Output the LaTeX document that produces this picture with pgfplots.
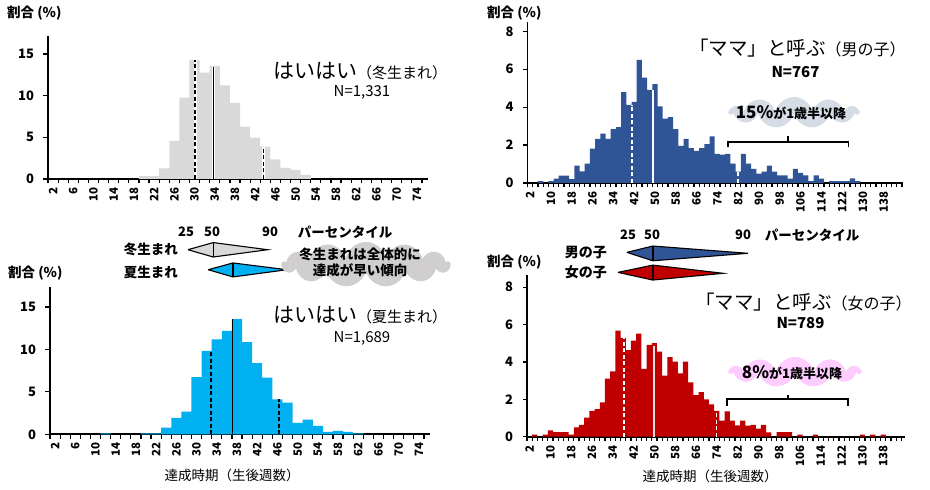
\documentclass[border=0pt]{standalone}
\usepackage{pgfplots}
\pgfplotsset{compat=1.18}
\usepackage{fontspec}
\setmainfont{Noto Sans CJK JP}
\usetikzlibrary{shapes.symbols}
\newcommand{\fs}[1]{\fontsize{#1}{#1}\selectfont}
\definecolor{winter}{HTML}{D9D9D9}
\definecolor{summer}{HTML}{00B0F0}
\definecolor{boy}{HTML}{2F5597}
\definecolor{girl}{HTML}{C00000}
\definecolor{cloudgray}{HTML}{D0CECE}
\definecolor{cloudblue}{HTML}{D6DCE5}
\definecolor{cloudpink}{HTML}{FFCCFF}
\pgfplotsset{
 hist/.style={
  scale only axis, clip=false,
  axis lines*=left,
  axis line style={line width=1.7pt, black},
  tick align=outside,
  major tick length=4.5pt,
  tick style={line width=1.2pt, black},
  ymin=0, xmin=1,
  xticklabels={},
  extra x tick style={major tick length=0pt, tick style={draw=none}},
  yticklabel style={font=\bfseries\fs{13}, xshift=-6pt},
  xticklabel style={font=\bfseries\fs{11.5}, rotate=90, anchor=east},
  xticklabel shift=5pt,
  /pgf/number format/assume math mode=true,
  /pgf/number format/1000 sep={},
 },
 pw/.style={white, line width=3pt},
 pk/.style={black, line width=1.4pt},
 pkd/.style={black, line width=1.4pt, dash pattern=on 4pt off 2.5pt},
 rw/.style={white, line width=1.6pt},
 rwd/.style={white, line width=1.6pt, dash pattern=on 4pt off 2.5pt},
}
\begin{document}
\begin{tikzpicture}

% ---------- top left: winter ----------
\begin{axis}[hist, anchor=south west, at={(48pt,311pt)}, width=380pt, height=143pt,
  xmax=76.2, ymax=17.16, ytick={0,5,10,15},
  xtick={1,3,...,75}, extra x ticks={2,6,...,74}]
\addplot[ybar, bar width=2, bar shift=0pt, fill=winter, draw=none] coordinates {
(20,0.35) (22,0.35) (24,1.28) (26,4.56) (28,9.76) (30,14.28) (32,12.76) (34,13.56)
(36,11.24) (38,9.12) (40,6.28) (42,4.96) (44,3.88) (46,2.36) (48,1.32) (50,1.08) (52,0.48)};
\addplot[pw] coordinates {(30.1,0) (30.1,14.28)};
\addplot[pkd] coordinates {(30.1,0) (30.1,14.28)};
\addplot[pw] coordinates {(33.7,0) (33.7,13.4)};
\addplot[pk] coordinates {(33.7,0) (33.7,13.4)};
\addplot[pw] coordinates {(43.6,0) (43.6,3.88)};
\addplot[pkd] coordinates {(43.6,0) (43.6,3.88)};
\end{axis}

% ---------- bottom left: summer ----------
\begin{axis}[hist, anchor=south west, at={(50pt,55.7pt)}, width=380pt, height=147.6pt,
  xmax=76.2, ymax=17.4, ytick={0,5,10,15},
  xtick={1,3,...,75}, extra x ticks={2,6,...,74}]
\addplot[ybar, bar width=2, bar shift=0pt, fill=summer, draw=none] coordinates {
(12,0.12) (20,0.1) (22,0.1) (24,0.79) (26,1.93) (28,2.68) (30,6.73) (32,9.84) (34,11.18)
(36,12.2) (38,13.58) (40,10.87) (42,8.39) (44,6.69) (46,4.13) (48,3.74) (50,1.34)
(52,1.73) (54,0.98) (56,0.28) (58,0.39) (60,0.28) (62,0.12)};
\addplot[pkd] coordinates {(32.9,0) (32.9,9.84)};
\addplot[pk] coordinates {(37.1,0) (37.1,13.58)};
\addplot[pkd] coordinates {(46.3,0) (46.3,4.13)};
\addplot[fill=winter, draw=black, line width=1.1pt] coordinates {(28.3,21.76) (33.3,22.6) (44.1,21.76) (33.3,20.9) (28.3,21.76)};
\addplot[black, line width=1.3pt] coordinates {(33.3,20.9) (33.3,22.6)};
\addplot[fill=summer, draw=black, line width=1.1pt] coordinates {(32.3,19.4) (37.2,20.2) (47.9,19.4) (37.2,18.55) (32.3,19.4)};
\addplot[black, line width=1.3pt] coordinates {(37.2,18.55) (37.2,20.2)};
\end{axis}

% ---------- top right: boys ----------
\begin{axis}[hist, anchor=south west, at={(527.5pt,307pt)}, width=375pt, height=161pt,
  xmax=145.2, ymax=8.49, ytick={0,2,4,6,8},
  xtick={1,3,...,145}, extra x ticks={2,10,...,138}]
\addplot[ybar, bar width=2, bar shift=0pt, fill=boy, draw=none] coordinates {
(6,0.1) (10,0.1) (12,0.23) (14,0.39) (16,0.39) (18,0.21) (20,0.91) (22,0.61) (24,1.02)
(26,1.81) (28,2.33) (30,2.6) (32,2.33) (34,2.84) (36,2.95) (38,4.79) (40,4.12) (42,4.28)
(44,6.49) (46,5.56) (48,4.91) (50,5.21) (52,4.04) (54,3.39) (56,3.47) (58,2.84) (60,1.96)
(62,2.33) (64,1.84) (66,1.70) (68,1.84) (70,2.05) (72,2.46) (74,1.54) (76,1.49) (78,1.54)
(80,1.02) (82,0.6) (84,1.54) (86,1.02) (88,0.75) (90,0.49) (92,0.6) (94,0.91) (96,0.6)
(98,0.4) (100,0.4) (102,0.23) (104,0.75) (106,0.53) (108,0.4) (110,0.1) (112,0.4)
(114,0.23) (118,0.1) (120,0.1) (122,0.1) (124,0.1) (126,0.25) (128,0.1)};
\addplot[rwd] coordinates {(41.2,0) (41.2,4.12)};
\addplot[rw] coordinates {(49.3,0) (49.3,4.9)};
\addplot[rwd] coordinates {(82.0,0) (82.0,0.6)};
\addplot[black, line width=1.8pt] coordinates {(78.2,1.9) (78.2,2.16) (124.4,2.16) (124.4,1.9)};
\addplot[black, line width=1.8pt] coordinates {(101.3,2.16) (101.3,2.47)};
\end{axis}

% ---------- bottom right: girls ----------
\begin{axis}[hist, anchor=south west, at={(527pt,53.3pt)}, width=378pt, height=161.7pt,
  xmax=146.4, ymax=8.65, ytick={0,2,4,6,8},
  xtick={1,3,...,145}, extra x ticks={2,10,...,138}]
\addplot[ybar, bar width=2, bar shift=0pt, fill=girl, draw=none] coordinates {
(4,0.11) (8,0.11) (10,0.34) (12,0.25) (14,0.25) (16,0.25) (18,0.11) (20,0.5) (22,0.63)
(24,1.02) (26,1.38) (28,1.48) (30,1.84) (32,3.11) (34,3.5) (36,5.68) (38,5.29) (40,4.63)
(42,5.14) (44,5.52) (46,3.63) (48,4.91) (50,5.0) (52,4.55) (54,3.27) (56,4.25) (58,4.02)
(60,3.39) (62,4.02) (64,2.91) (66,2.23) (68,2.38) (70,2.0) (72,1.73) (74,1.38) (76,0.86)
(78,1.36) (80,0.86) (82,0.61) (84,0.86) (86,0.59) (88,0.63) (90,0.43) (92,0.63) (94,0.23)
(98,0.25) (100,0.25) (102,0.25) (106,0.11) (112,0.11) (130,0.11) (134,0.11) (138,0.11)};
\addplot[rwd] coordinates {(38.4,0) (38.4,5.29)};
\addplot[white!88!black, line width=1.6pt] coordinates {(49.8,0) (49.8,4.85)};
\addplot[rwd] coordinates {(73.9,0) (73.9,1.38)};
\addplot[black, line width=1.8pt] coordinates {(78.0,1.64) (78.0,2.02) (124.5,2.02) (124.5,1.64)};
\addplot[black, line width=1.8pt] coordinates {(101.5,2.02) (101.5,2.23)};
\addplot[fill=boy, draw=black, line width=1.1pt] coordinates {(39.4,9.86) (49.4,10.2) (86.0,9.81) (49.4,9.41) (39.4,9.86)};
\addplot[black, line width=2.4pt] coordinates {(49.4,9.41) (49.4,10.2)};
\addplot[fill=girl, draw=black, line width=1.1pt] coordinates {(36.0,8.79) (49.4,9.18) (76.5,8.74) (49.4,8.38) (36.0,8.79)};
\addplot[black, line width=2.4pt] coordinates {(49.4,8.38) (49.4,9.18)};
\end{axis}

% ---------- texts ----------
\begin{scope}[x=1pt,y=1pt]
\node[anchor=west, inner sep=0] at (7,477) {\bfseries\fs{13.5}割合 (\%)};
\node[anchor=west, inner sep=0] at (487,477) {\bfseries\fs{13.5}割合 (\%)};
\node[anchor=west, inner sep=0] at (8,217) {\bfseries\fs{13.5}割合 (\%)};
\node[anchor=west, inner sep=0] at (487,228) {\bfseries\fs{13.5}割合 (\%)};

\node[anchor=west, inner sep=0] at (273,419) {{\fs{21}はいはい}{\fs{15}（冬生まれ）}};
\node[inner sep=0] at (362,398) {\fs{15}N=1,331};
\node[anchor=west, inner sep=0] at (273,175) {{\fs{21}はいはい}{\fs{15}（夏生まれ）}};
\node[inner sep=0] at (362,152) {\fs{15}N=1,689};

\node[anchor=west, inner sep=0] at (689,442) {{\fs{19.5}「ママ」と呼ぶ}{\fs{16}（男の子）}};
\node[inner sep=0] at (795.5,418.3) {\bfseries\fs{15}N=767};
\node[anchor=west, inner sep=0] at (695,188.3) {{\fs{19.5}「ママ」と呼ぶ}{\fs{16}（女の子）}};
\node[inner sep=0] at (800.5,166.7) {\bfseries\fs{15}N=789};

\node[inner sep=0] at (186,258) {\bfseries\fs{13}25};
\node[inner sep=0] at (212,258) {\bfseries\fs{13}50};
\node[inner sep=0] at (270,258) {\bfseries\fs{13}90};
\node[inner sep=0] at (345,258) {\bfseries\fs{13.5}パーセンタイル};
\node[anchor=east, inner sep=0] at (178,241) {\bfseries\fs{13.5}冬生まれ};
\node[anchor=east, inner sep=0] at (178,218) {\bfseries\fs{13.5}夏生まれ};

\node[inner sep=0] at (628,255) {\bfseries\fs{13}25};
\node[inner sep=0] at (652,255) {\bfseries\fs{13}50};
\node[inner sep=0] at (743,255) {\bfseries\fs{13}90};
\node[inner sep=0] at (812,255) {\bfseries\fs{13.5}パーセンタイル};
\node[anchor=east, inner sep=0] at (607,237) {\bfseries\fs{14}男の子};
\node[anchor=east, inner sep=0] at (607,218) {\bfseries\fs{14}女の子};

\node[cloud, cloud puffs=13, aspect=3.7, minimum width=168pt, minimum height=45pt, fill=cloudgray, draw=none, inner sep=0] at (366,225.5) {};
\node[inner sep=0] at (360,236) {\bfseries\fs{13.5}冬生まれは全体的に};
\node[inner sep=0] at (360,219.3) {\bfseries\fs{13.5}達成が早い傾向};

\node[cloud, cloud puffs=11, aspect=4, minimum width=128pt, minimum height=31pt, fill=cloudblue, draw=none, inner sep=0] at (794,377.5) {};
\node[inner sep=0] at (791,377) {{\bfseries\fs{17}15\%}{\bfseries\fs{13}が1歳半以降}};
\node[cloud, cloud puffs=11, aspect=4.2, minimum width=130pt, minimum height=30pt, fill=cloudpink, draw=none, inner sep=0] at (795,118) {};
\node[inner sep=0] at (792,117) {{\bfseries\fs{17}8\%}{\bfseries\fs{13}が1歳半以降}};

\node[inner sep=0] at (232,15) {\fs{13.5}達成時期（生後週数）};
\node[inner sep=0] at (710,13.3) {\fs{13.5}達成時期（生後週数）};

\pgfresetboundingbox
\path[use as bounding box] (0,0) rectangle (930,490);
\end{scope}
\end{tikzpicture}
\end{document}
